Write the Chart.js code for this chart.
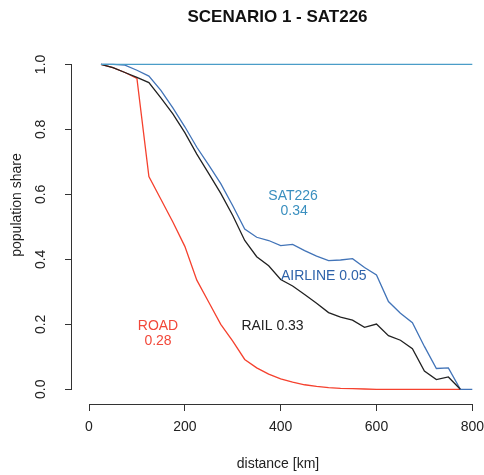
<!DOCTYPE html>
<html lang="en">
<head>
  <meta charset="UTF-8">
  <title>Scenario 1 - SAT226</title>
  <script src="https://cdn.jsdelivr.net/npm/chart.js"></script>
  <style>
    html, body { margin: 0; padding: 0; background: #fff; }
    #wrap { width: 484px; height: 475px; }
  </style>
</head>
<body>
  <div id="wrap"><canvas id="shareChart" width="484" height="475"></canvas></div>

  <script>
    // distance classes (km)
    const distanceKm = [25, 50, 75, 100, 125, 150, 175, 200, 225, 250, 275, 300, 325, 350, 375, 400,
                        425, 450, 475, 500, 525, 550, 575, 600, 625, 650, 675, 700, 725, 750, 775, 800];

    // population share reached by each mode
    const railShare = [1.0, 0.99, 0.975, 0.96, 0.944, 0.897, 0.848, 0.79, 0.724, 0.664, 0.603, 0.535,
                       0.458, 0.408, 0.38, 0.338, 0.318, 0.292, 0.265, 0.236, 0.222, 0.213, 0.191, 0.201,
                       0.165, 0.151, 0.125, 0.056, 0.03, 0.038, 0];
    const roadShare = [1.0, 0.99, 0.975, 0.957, 0.655, 0.585, 0.515, 0.44, 0.336, 0.268, 0.2, 0.148,
                       0.092, 0.066, 0.047, 0.032, 0.022, 0.014, 0.009, 0.005, 0.003, 0.002, 0.001, 0,
                       0, 0, 0, 0, 0, 0, 0];
    const airlineShare = [1.0, 1.0, 0.998, 0.982, 0.964, 0.92, 0.866, 0.808, 0.745, 0.69, 0.633, 0.565,
                          0.493, 0.468, 0.458, 0.442, 0.446, 0.427, 0.41, 0.396, 0.398, 0.402, 0.375, 0.352,
                          0.27, 0.234, 0.205, 0.132, 0.064, 0.066, 0, 0];
    const satKm = [25, 800];
    const satShare = [1, 1];

    const xTicks = [0, 200, 400, 600, 800];
    const yTicks = [0, 0.2, 0.4, 0.6, 0.8, 1.0];

    // text labels inside the plot
    const notes = [
      { text: 'SAT226', km: 426, share: 0.595, color: '#3a8fbf' },
      { text: '0.34', km: 428, share: 0.549, color: '#3a8fbf' },
      { text: 'AIRLINE 0.05', km: 490, share: 0.349, color: '#2f63aa' },
      { text: 'RAIL 0.33', km: 383, share: 0.195, color: '#222222' },
      { text: 'ROAD', km: 144, share: 0.195, color: '#f2483a' },
      { text: '0.28', km: 144, share: 0.149, color: '#f2483a' }
    ];

    const FONT = 'Liberation Sans, Arial, sans-serif';

    const toPoints = (xs, ys) => ys.map((y, i) => ({ x: xs[i], y }));

    // R-style axes: lines only between first and last tick, rotated y labels, free text
    const rStyle = {
      id: 'rStyle',
      afterDraw(chart) {
        const { ctx, chartArea, scales: { x, y } } = chart;
        ctx.save();
        ctx.strokeStyle = '#333';
        ctx.lineWidth = 1;
        ctx.beginPath();
        const by = Math.round(chartArea.bottom) + 0.5;
        ctx.moveTo(x.getPixelForValue(xTicks[0]), by);
        ctx.lineTo(x.getPixelForValue(xTicks[xTicks.length - 1]), by);
        const lx = Math.round(chartArea.left) - 0.5;
        ctx.moveTo(lx, y.getPixelForValue(yTicks[0]));
        ctx.lineTo(lx, y.getPixelForValue(yTicks[yTicks.length - 1]));
        ctx.stroke();

        ctx.font = '14px ' + FONT;
        ctx.textAlign = 'center';
        ctx.textBaseline = 'middle';
        notes.forEach(n => {
          ctx.fillStyle = n.color;
          ctx.fillText(n.text, x.getPixelForValue(n.km), y.getPixelForValue(n.share));
        });

        ctx.fillStyle = '#222';
        yTicks.forEach(v => {
          ctx.save();
          ctx.translate(41, y.getPixelForValue(v));
          ctx.rotate(-Math.PI / 2);
          ctx.fillText(v.toFixed(1), 0, 0);
          ctx.restore();
        });

        ctx.translate(17, 205);
        ctx.rotate(-Math.PI / 2);
        ctx.fillText('population share', 0, 0);
        ctx.restore();
      }
    };

    new Chart(document.getElementById('shareChart'), {
      type: 'line',
      data: {
        datasets: [
          { label: 'SAT226', data: toPoints(satKm, satShare), borderColor: '#4a9dc8' },
          { label: 'RAIL', data: toPoints(distanceKm, railShare), borderColor: '#222222' },
          { label: 'AIRLINE', data: toPoints(distanceKm, airlineShare), borderColor: '#4274b8' },
          { label: 'ROAD', data: toPoints(distanceKm, roadShare), borderColor: '#f5412e' }
        ]
      },
      options: {
        responsive: false,
        animation: false,
        devicePixelRatio: 1,
        layout: { padding: { left: 71, right: 0, top: 0, bottom: 0 } },
        elements: {
          line: { borderWidth: 1.3, tension: 0, fill: false },
          point: { radius: 0, hoverRadius: 0 }
        },
        plugins: {
          legend: { display: false },
          tooltip: { enabled: false },
          title: {
            display: true,
            text: 'SCENARIO 1 - SAT226',
            color: '#111',
            font: { family: FONT, size: 17, weight: 'bold' },
            padding: { top: 7, bottom: 24 }
          }
        },
        scales: {
          x: {
            type: 'linear',
            min: -35.5,
            max: 824.4,
            afterBuildTicks: s => { s.ticks = xTicks.map(v => ({ value: v })); },
            afterFit: s => { s.height = 71; s.paddingLeft = 0; s.paddingRight = 0; },
            border: { display: false },
            grid: { display: true, drawOnChartArea: false, drawTicks: true, tickLength: 7, color: '#333' },
            ticks: {
              color: '#222', padding: 8, maxRotation: 0, autoSkip: false,
              font: { family: FONT, size: 14 },
              callback: v => String(v)
            },
            title: {
              display: true,
              text: 'distance [km]',
              color: '#222',
              font: { family: FONT, size: 14 },
              padding: { top: 0, bottom: 2 }
            }
          },
          y: {
            type: 'linear',
            min: -0.0452,
            max: 1.04,
            afterBuildTicks: s => { s.ticks = yTicks.map(v => ({ value: v })); },
            afterFit: s => { s.width = 1; s.paddingTop = 0; s.paddingBottom = 0; },
            border: { display: false },
            grid: { display: true, drawOnChartArea: false, drawTicks: true, tickLength: 7, color: '#333' },
            ticks: { display: false }
          }
        }
      },
      plugins: [rStyle]
    });
  </script>
</body>
</html>
